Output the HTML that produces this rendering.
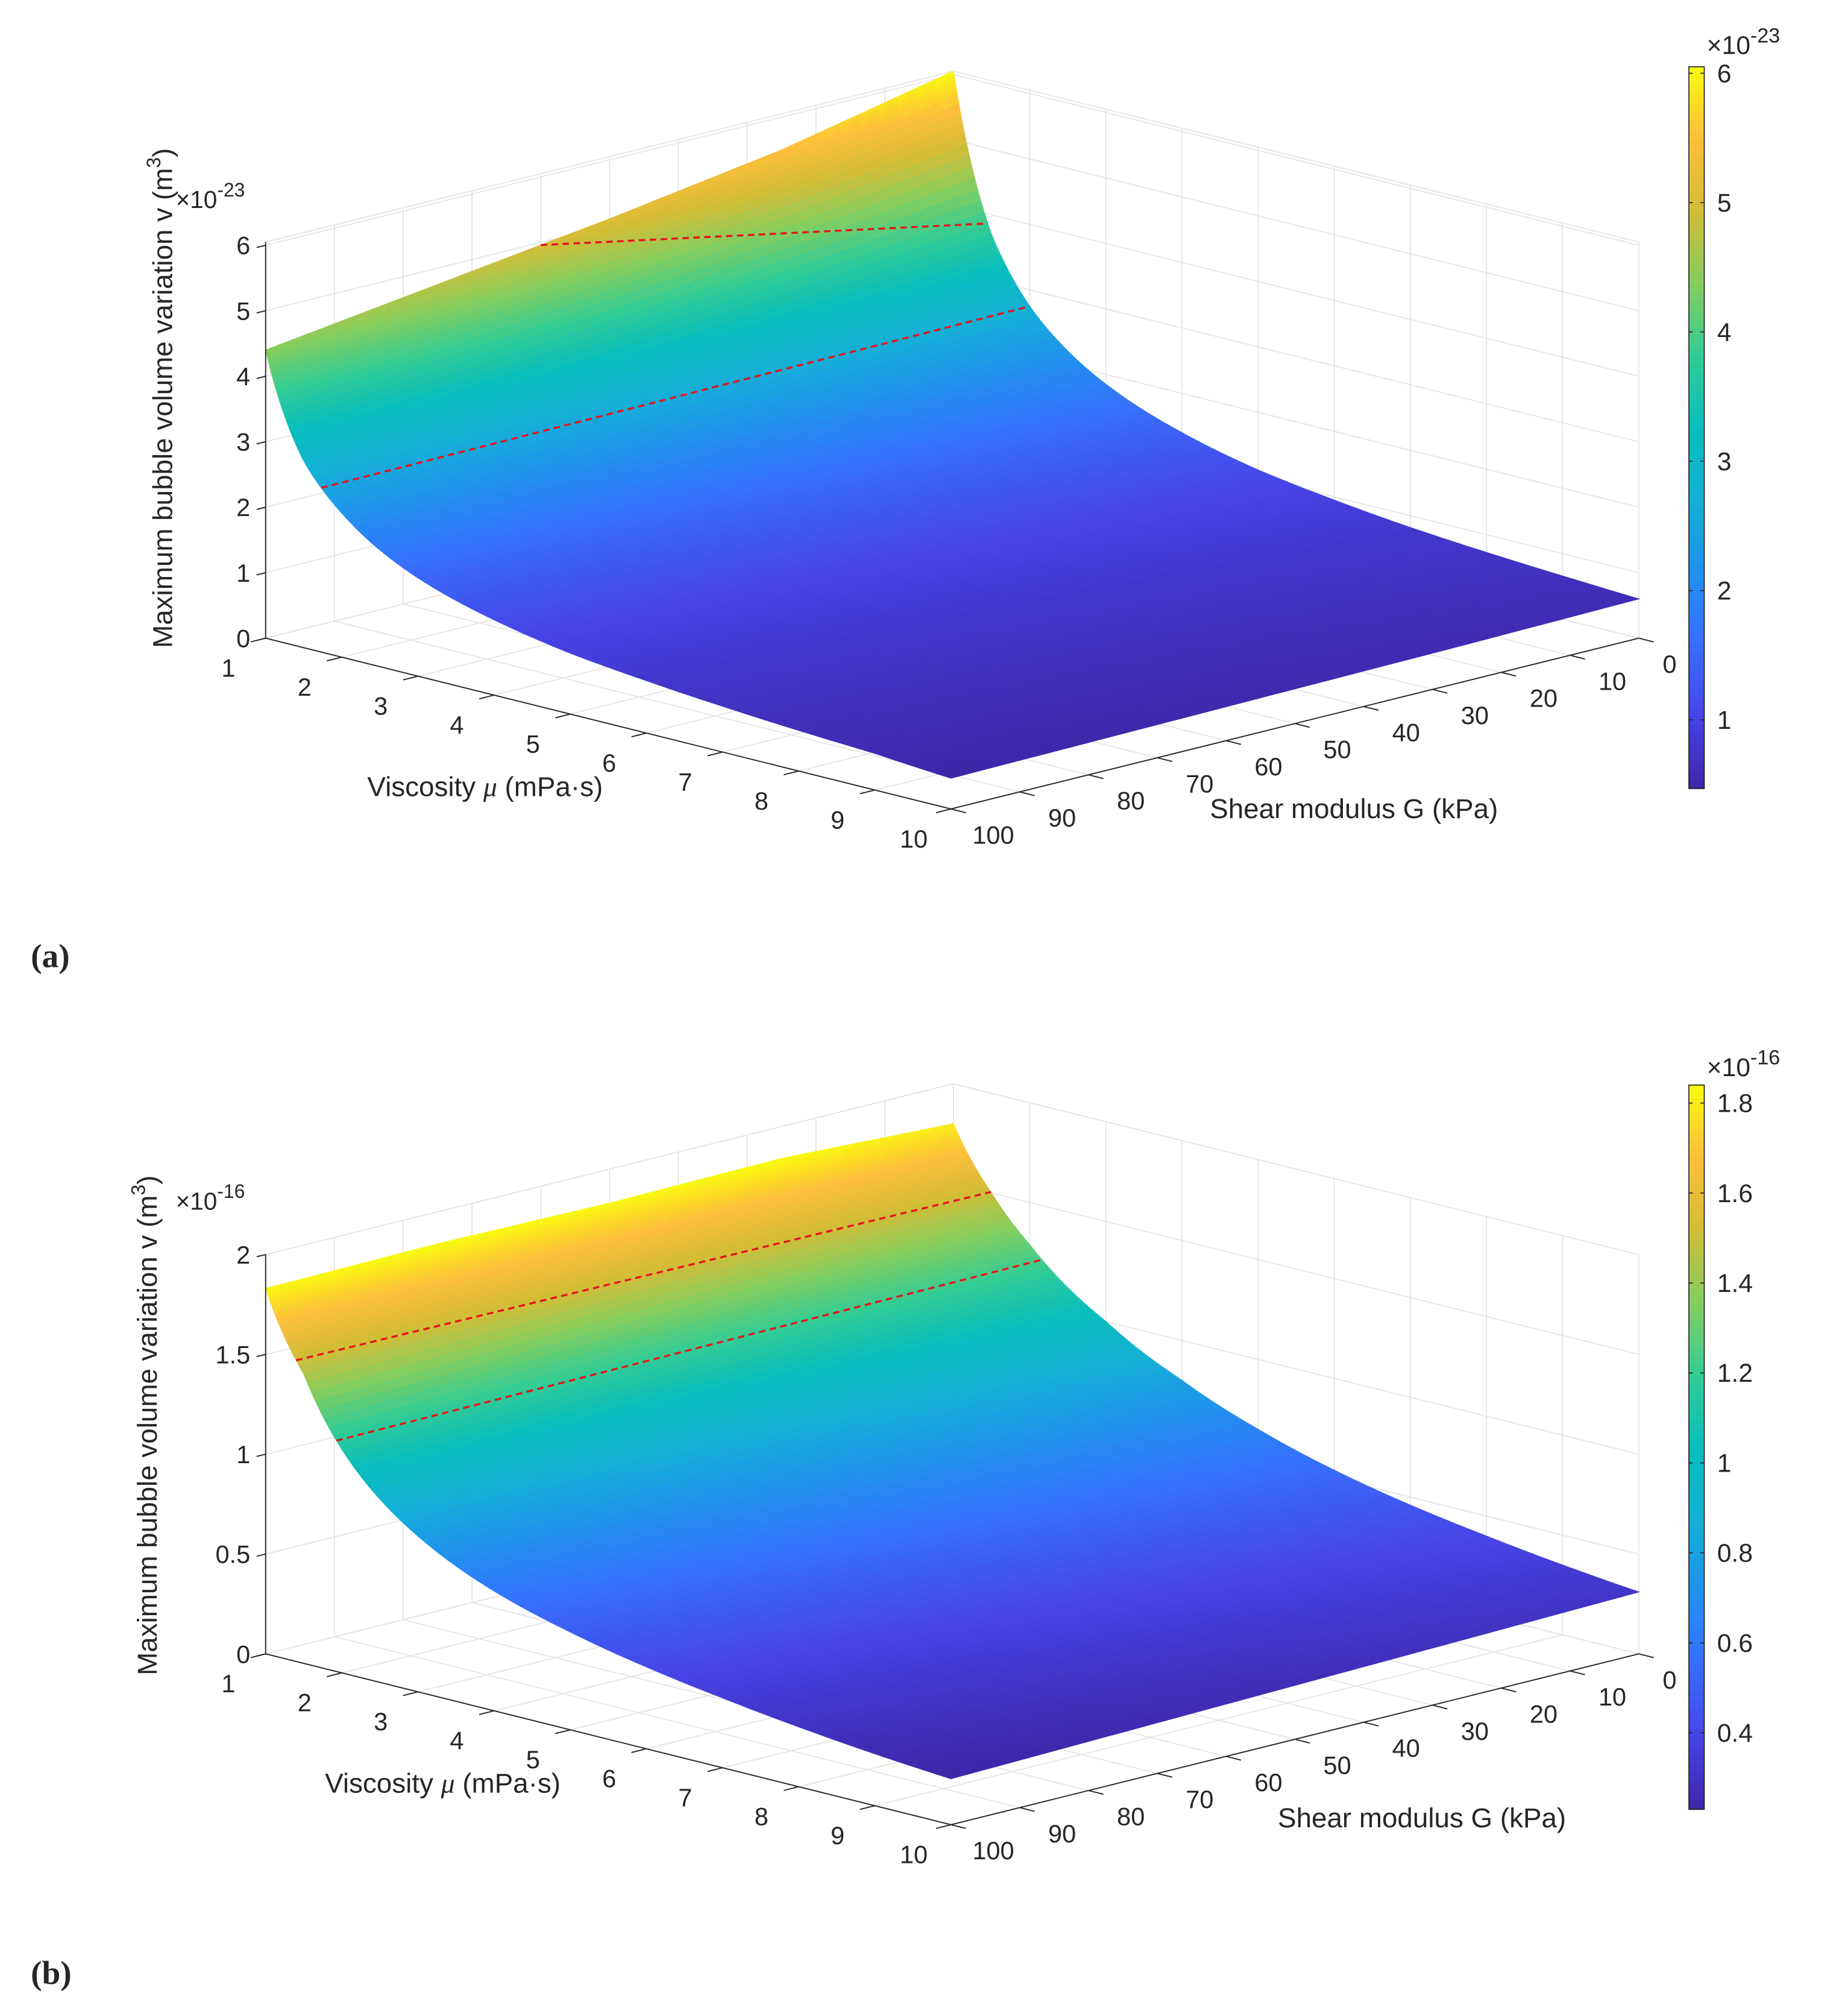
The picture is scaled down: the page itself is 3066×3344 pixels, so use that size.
<!DOCTYPE html>
<html><head><meta charset="utf-8"><style>
html,body{margin:0;padding:0;background:#fff;}
svg{display:block;}
text{fill:#262626;}
</style></head><body>
<svg id="fig" width="3066" height="3344" viewBox="0 0 1440 1570" preserveAspectRatio="none" xmlns="http://www.w3.org/2000/svg" font-family="Liberation Sans, sans-serif"></svg>
<script>
// ---- data ----
const muVals = [1,1.5,2,3,4,5,6,7,8,9,10];
const gVals = [0,25,50,75,100];
const zA = [
 [6.05,5.5,5.1,4.75,4.4],
 [3.7,3.45,3.25,3.05,2.85],
 [2.75,2.6,2.45,2.3,2.2],
 [1.85,1.75,1.65,1.55,1.5],
 [1.4,1.33,1.27,1.2,1.15],
 [1.12,1.07,1.02,0.97,0.93],
 [0.95,0.9,0.86,0.83,0.8],
 [0.82,0.78,0.75,0.72,0.7],
 [0.73,0.69,0.66,0.64,0.62],
 [0.66,0.62,0.59,0.57,0.56],
 [0.6,0.56,0.53,0.5,0.47]
];
const zB = [
 [1.80,1.84,1.83,1.84,1.83],
 [1.50,1.50,1.49,1.47,1.45],
 [1.29,1.25,1.2,1.16,1.12],
 [1.0,0.95,0.88,0.83,0.78],
 [0.8,0.75,0.7,0.65,0.6],
 [0.65,0.61,0.57,0.53,0.49],
 [0.54,0.51,0.47,0.44,0.41],
 [0.46,0.43,0.4,0.37,0.35],
 [0.4,0.37,0.35,0.32,0.3],
 [0.35,0.33,0.3,0.28,0.26],
 [0.31,0.29,0.27,0.25,0.23]
];
const muTicks = [1,2,3,4,5,6,7,8,9,10];
const gTicks = [0,10,20,30,40,50,60,70,80,90,100];
const zTicksA = [0,1,2,3,4,5,6];
const zTicksB = [0,0.5,1,1.5,2];
const cbTicksA = [1,2,3,4,5,6];
const cbTicksB = [0.4,0.6,0.8,1,1.2,1.4,1.6,1.8];
// red dashed lines: endpoints as [mu,G]
const redA = [[[1,60],[1.45,0]],[[1.73,100],[2.0,0]]];
const redB = [[[1.4,100],[1.49,0]],[[1.93,100],[2.16,0]]];

const NS="http://www.w3.org/2000/svg";
const svg=document.getElementById('fig');
function mk(tag,attrs,parent){const e=document.createElementNS(NS,tag);for(const k in attrs)e.setAttribute(k,attrs[k]);(parent||svg).appendChild(e);return e;}

const parula=[[0,62,38,168],[0.1,71,68,231],[0.2,55,110,252],[0.3,33,146,238],[0.4,20,176,213],[0.5,8,190,188],[0.6,52,204,148],[0.7,132,206,95],[0.8,210,189,55],[0.9,254,190,60],[1,249,251,14]];
function cmap(t){t=Math.max(0,Math.min(1,t));for(let i=1;i<parula.length;i++){if(t<=parula[i][0]){const a=parula[i-1],b=parula[i];const f=(t-a[0])/(b[0]-a[0]);return `rgb(${Math.round(a[1]+f*(b[1]-a[1]))},${Math.round(a[2]+f*(b[2]-a[2]))},${Math.round(a[3]+f*(b[3]-a[3]))})`;}}return 'rgb(249,251,14)';}

function interp(Z,mu,G){
  let i=0;while(i<muVals.length-2&&mu>muVals[i+1])i++;
  let j=0;while(j<gVals.length-2&&G>gVals[j+1])j++;
  const fg=(G-gVals[j])/(gVals[j+1]-gVals[j]);
  const lm=Math.log(mu),l0=Math.log(muVals[i]),l1=Math.log(muVals[i+1]);
  const fm=(lm-l0)/(l1-l0);
  const za=Math.log(Z[i][j]*(1-fg)+Z[i][j+1]*fg);
  const zb=Math.log(Z[i+1][j]*(1-fg)+Z[i+1][j+1]*fg);
  return Math.exp(za+(zb-za)*fm);
}

function panel(cfg){
  const {Z,y0,zs,zmax,zTicks,cbTicks,cbTop,cbBot,expo,red,tag,muLab,gLab,yLabY,yLabX,expY,cbExpY,letterY} = cfg;
  const P=(mu,G,z)=>[207+(mu-1)*59.333+(G-100)*(-5.36), y0+(mu-1)*14.778+(G-100)*1.33 - zs*z];
  const g=mk('g',{});
  
  
  const grid=mk('g',{stroke:'#e3e3e3','stroke-width':0.8,fill:'none'},g);
  
  
  const line=(a,b,par,st)=>mk('line',Object.assign({x1:a[0],y1:a[1],x2:b[0],y2:b[1]},st||{}),par);
  muTicks.forEach(m=>line(P(m,0,0),P(m,100,0),grid));
  gTicks.forEach(G=>line(P(1,G,0),P(10,G,0),grid));
  gTicks.forEach(G=>line(P(1,G,0),P(1,G,zmax),grid));
  zTicks.forEach(z=>line(P(1,0,z),P(1,100,z),grid));
  line(P(1,0,zmax),P(1,100,zmax),grid);
  muTicks.forEach(m=>line(P(m,0,0),P(m,0,zmax),grid));
  zTicks.forEach(z=>line(P(1,0,z),P(10,0,z),grid));
  line(P(1,0,zmax),P(10,0,zmax),grid);
  let zmin=1e9,zmx=-1e9;Z.forEach(r=>r.forEach(v=>{zmin=Math.min(zmin,v);zmx=Math.max(zmx,v);}));
  const surf=mk('g',{},g);
  
  
  const NM=90,NG=36;
  const mus=[];for(let i=0;i<=NM;i++){const t=i/NM;mus.push(1+9*Math.pow(t,1.8));}
  const gs=[];for(let j=0;j<=NG;j++)gs.push(100*j/NG);
  const quads=[];
  for(let i=0;i<NM;i++)for(let j=0;j<NG;j++){
    const pts=[[mus[i],gs[j]],[mus[i+1],gs[j]],[mus[i+1],gs[j+1]],[mus[i],gs[j+1]]];
    let zs_=0;const pp=pts.map(p=>{const z=interp(Z,p[0],p[1]);zs_+=z;return P(p[0],p[1],z);});
    const depth=(mus[i]-1)/9+(gs[j])/100;
    quads.push({pp,z:zs_/4,depth});
  }
  quads.sort((a,b)=>a.depth-b.depth);
  quads.forEach(q=>{const c=cmap((q.z-zmin)/(zmx-zmin));
    const p=mk('polygon',{points:q.pp.map(v=>v[0].toFixed(2)+','+v[1].toFixed(2)).join(' '),fill:c,stroke:c,'stroke-width':0.6},surf);
    
    
  });
  (red||[]).forEach((r,k)=>{
    const a=P(r[0][0],r[0][1],interp(Z,r[0][0],r[0][1]));
    const b=P(r[1][0],r[1][1],interp(Z,r[1][0],r[1][1]));
    const pl=mk('line',{x1:a[0],y1:a[1],x2:b[0],y2:b[1],stroke:'#e8141b','stroke-width':1.6,'stroke-dasharray':'5,3.5'},g);
    
    
  });
  const ax=mk('g',{stroke:'#262626','stroke-width':0.9},g);
  
  
  line(P(1,100,0),P(1,100,zmax),ax);
  line(P(1,100,0),P(10,100,0),ax);
  line(P(10,100,0),P(10,0,0),ax);
  const lab=mk('g',{'font-size':19.5},g);
  
  
  zTicks.forEach(z=>{const p=P(1,100,z);line([p[0]-7,p[1]+1.7],p,ax);
    const t=mk('text',{x:p[0]-12,y:p[1]+7,'text-anchor':'end'},lab);t.textContent=String(z);
    });
  muTicks.forEach(m=>{const p=P(m,100,0);line(p,[p[0]-11.6,p[1]+2.9],ax);
    const t=mk('text',{x:p[0]-29,y:p[1]+30,'text-anchor':'middle'},lab);t.textContent=String(m);
    });
  gTicks.forEach(G=>{const p=P(10,G,0);line(p,[p[0]+11.6,p[1]+2.9],ax);
    const t=mk('text',{x:p[0]+(G===0?24:33),y:p[1]+27,'text-anchor':'middle'},lab);t.textContent=String(G);
    });
  const mt=mk('text',{x:muLab[0],y:muLab[1],'font-size':21.5,'text-anchor':'middle'},g);
  mt.appendChild(document.createTextNode('Viscosity '));
  const mu_=mk('tspan',{'font-family':'Liberation Serif, serif','font-style':'italic'},mt);mu_.textContent='μ';
  mt.appendChild(document.createTextNode(' (mPa·s)'));
  
  const gt=mk('text',{x:gLab[0],y:gLab[1],'font-size':21.5,'text-anchor':'middle'},g);
  gt.textContent='Shear modulus G (kPa)';
  
  const zt=mk('text',{x:0,y:0,'font-size':21.5,'text-anchor':'middle',transform:`translate(${yLabX},${yLabY}) rotate(-90)`},g);
  zt.appendChild(document.createTextNode('Maximum bubble volume variation v (m'));
  const s3=mk('tspan',{dy:-9,'font-size':15},zt);s3.textContent='3';
  const s4=mk('tspan',{dy:9},zt);s4.textContent=')';
  
  const ex=mk('text',{x:137,y:expY,'font-size':19},g);
  ex.appendChild(document.createTextNode('×10'));
  const e1=mk('tspan',{dy:-9,'font-size':15},ex);e1.textContent=expo;
  
  const cb=mk('g',{},g);
  
  const N=80;for(let k=0;k<N;k++){const y=cbTop+(cbBot-cbTop)*k/N;const t=1-(k+0.5)/N;
    mk('rect',{x:1316,y:y,width:12,height:(cbBot-cbTop)/N+0.5,fill:cmap(t)},cb);}
  mk('rect',{x:1316,y:cbTop,width:12,height:cbBot-cbTop,fill:'none',stroke:'#262626','stroke-width':0.8},cb);
  const vy=v=>cbBot-(v-zmin)/(zmx-zmin)*(cbBot-cbTop);
  cbTicks.forEach(v=>{const y=vy(v);mk('line',{x1:1316,y1:y,x2:1319,y2:y,stroke:'#262626','stroke-width':0.8},cb);mk('line',{x1:1325,y1:y,x2:1328,y2:y,stroke:'#262626','stroke-width':0.8},cb);
    const t=mk('text',{x:1338,y:y+7,'font-size':20},cb);t.textContent=String(v);
    });
  const ce=mk('text',{x:1330,y:cbExpY,'font-size':20},cb);
  ce.appendChild(document.createTextNode('×10'));
  const e2=mk('tspan',{dy:-9,'font-size':16},ce);e2.textContent=expo;
  
  const L=mk('text',{x:24,y:letterY,'font-size':26,'font-weight':'bold','font-family':'Liberation Serif, serif'},g);
  L.textContent='('+tag+')';
  
}
panel({Z:zA,red:redA,y0:497,zs:51,zmax:6.05,zTicks:zTicksA,cbTicks:cbTicksA,cbTop:52,cbBot:614,expo:'-23',tag:'a',
  muLab:[378,620],gLab:[1055,637],yLabX:134,yLabY:310,expY:162,cbExpY:42,letterY:753});
panel({Z:zB,red:redB,y0:1288,zs:155.5,zmax:2,zTicks:zTicksB,cbTicks:cbTicksB,cbTop:845,cbBot:1409,expo:'-16',tag:'b',
  muLab:[345,1396],gLab:[1108,1423],yLabX:122,yLabY:1110,expY:942,cbExpY:838,letterY:1545});
</script>
</body></html>
